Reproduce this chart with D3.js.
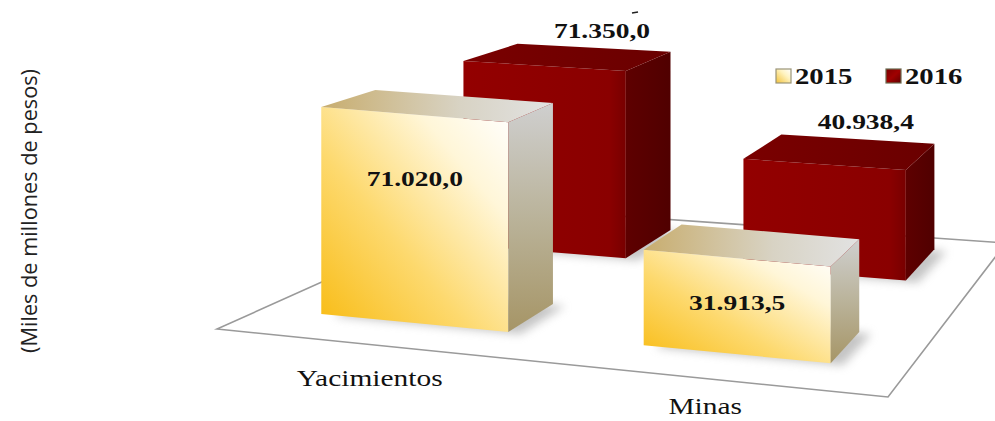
<!DOCTYPE html>
<html>
<head>
<meta charset="utf-8">
<script src="https://cdn.jsdelivr.net/npm/d3@7"></script>
<style>
  body { margin: 0; background: #fff; }
  svg { display: block; }
</style>
</head>
<body>
<svg id="chart" width="995" height="421"></svg>
<script>
const categories = ["Yacimientos", "Minas"];
const series = ["2015", "2016"];
const values2015 = [71020.0, 31913.5];
const values2016 = [71350.0, 40938.4];

const width = 995;
const height = 421;
const svg = d3.select("#chart");

// floor corners (front-left, front-right, back-left, back-right)
const FL = [217, 329], FR = [888, 397], BL = [489, 207], BR = [1006, 243];

const esLocale = d3.formatLocale({ decimal: ",", thousands: ".", grouping: [3], currency: ["$", ""] });
const fmt = esLocale.format(",.1f");

const uScale = d3.scaleBand().domain(categories).range([0.09, 0.88]).paddingInner(0.42);
const vScale = d3.scaleBand().domain(series).range([0.17, 0.93]).paddingInner(0.62);
const hScale = d3.scaleLinear().domain([0, 100000]).range([0, 300]);

function floorPt(u, v) {
  const fx = FL[0] + u * (FR[0] - FL[0]), fy = FL[1] + u * (FR[1] - FL[1]);
  const bx = BL[0] + u * (BR[0] - BL[0]), by = BL[1] + u * (BR[1] - BL[1]);
  return [fx + v * (bx - fx), fy + v * (by - fy)];
}
function proj(u, v, val) {
  const p = floorPt(u, v);
  const f = 1 + 0.05 * u - 0.2 * v;
  return [p[0], p[1] - hScale(val) * f];
}

const defs = svg.append("defs");
function grad(id, x1, y1, x2, y2, stops) {
  const g = defs.append("linearGradient").attr("id", id)
    .attr("x1", x1).attr("y1", y1).attr("x2", x2).attr("y2", y2);
  stops.forEach(s => g.append("stop").attr("offset", s[0]).attr("stop-color", s[1]));
}
grad("yFront", 0, 1, 1, 0, [[0, "#f8bb12"], [0.4, "#fdd96e"], [0.75, "#fff6d8"], [1, "#ffffff"]]);
grad("ySide", 0, 0, 0, 1, [[0, "#cfcfcf"], [0.5, "#bab39a"], [1, "#a69566"]]);
grad("yTop", 0, 0, 1, 0, [[0, "#c8ad6e"], [0.6, "#d8d3c4"], [1, "#e2e2e2"]]);
grad("rFront", 0, 0, 1, 0, [[0, "#930000"], [0.9, "#8a0000"], [1, "#780000"]]);
grad("rSide", 0, 0, 1, 0, [[0, "#5e0000"], [1, "#500000"]]);
grad("rTop", 0, 0, 1, 0, [[0, "#7a0000"], [1, "#6a0000"]]);
grad("yLeg", 0, 1, 1, 0, [[0, "#f3c23a"], [0.6, "#fff3c0"], [1, "#ffffff"]]);
grad("rLeg", 0, 0, 1, 1, [[0, "#7a0000"], [0.5, "#a00000"], [1, "#600000"]]);

defs.append("filter").attr("id", "blur").attr("x", "-30%").attr("y", "-30%")
  .attr("width", "160%").attr("height", "160%")
  .append("feGaussianBlur").attr("stdDeviation", 5);

const line = d3.line();

// floor
svg.append("path")
  .attr("d", line([FL, FR, BR, BL]) + "Z")
  .attr("fill", "#fff")
  .attr("stroke", "#9a9a9a")
  .attr("stroke-width", 1.6);

const bars = [];
series.forEach((s, si) => {
  const vals = si === 0 ? values2015 : values2016;
  categories.forEach((c, ci) => {
    bars.push({ cat: c, ser: s, si, value: vals[ci] });
  });
});
// back row first
bars.sort((a, b) => b.si - a.si);

const gBars = svg.append("g");

bars.forEach(d => {
  const u0 = uScale(d.cat), u1 = u0 + uScale.bandwidth();
  const v0 = vScale(d.ser), v1 = v0 + vScale.bandwidth();
  const fbl = proj(u0, v0, 0), fbr = proj(u1, v0, 0), bbr = proj(u1, v1, 0), bbl = proj(u0, v1, 0);
  const ftl = proj(u0, v0, d.value), ftr = proj(u1, v0, d.value);
  const btr = proj(u1, v1, d.value), btl = proj(u0, v1, d.value);
  const pre = d.si === 0 ? "y" : "r";

  // shadow on floor
  gBars.append("path")
    .attr("d", line([fbl, fbr, bbr, bbl].map(p => [p[0] + 12, p[1] + 2])) + "Z")
    .attr("fill", "#8a8a8a")
    .attr("opacity", 0.5)
    .attr("filter", "url(#blur)");

  gBars.append("path").attr("d", line([fbl, fbr, ftr, ftl]) + "Z")
    .attr("fill", `url(#${pre}Front)`);
  gBars.append("path").attr("d", line([fbr, bbr, btr, ftr]) + "Z")
    .attr("fill", `url(#${pre}Side)`);
  gBars.append("path").attr("d", line([ftl, ftr, btr, btl]) + "Z")
    .attr("fill", `url(#${pre}Top)`);

  d.ftl = ftl; d.ftr = ftr; d.fbl = fbl; d.fbr = fbr; d.btl = btl; d.btr = btr;
});

// value labels
const labelFont = "'Liberation Serif', 'Times New Roman', serif";
bars.forEach(d => {
  let x, y;
  if (d.si === 0) {
    const top = (d.ftl[1] + d.ftr[1]) / 2, bot = (d.fbl[1] + d.fbr[1]) / 2;
    const h = bot - top;
    x = (d.ftl[0] + d.ftr[0]) / 2;
    y = (top + bot) / 2 - 0.327 * h + 35;
  } else {
    x = (d.btl[0] + d.btr[0]) / 2 + 8;
    y = (d.btl[1] + d.btr[1]) / 2 - 10;
  }
  svg.append("text")
    .attr("transform", `translate(${x},${y}) scale(1.25,1)`)
    .attr("text-anchor", "middle")
    .attr("font-family", labelFont)
    .attr("font-weight", "bold")
    .attr("font-size", 22)
    .attr("fill", "#111")
    .text(fmt(d.value));
});

// small stray mark next to the top label
svg.append("line")
  .attr("x1", 632).attr("y1", 13).attr("x2", 638).attr("y2", 12)
  .attr("stroke", "#222").attr("stroke-width", 1.6);

// category labels
categories.forEach(c => {
  const p = floorPt(uScale(c) + uScale.bandwidth() / 2, 0);
  svg.append("text")
    .attr("transform", `translate(${p[0] - 5},${Math.min(p[1] + 41, height - 7)}) scale(1.28,1)`)
    .attr("text-anchor", "middle")
    .attr("font-family", labelFont)
    .attr("font-size", 23)
    .attr("fill", "#111")
    .text(c);
});

// axis title
svg.append("text")
  .attr("transform", "translate(37,211) rotate(-90)")
  .attr("text-anchor", "middle")
  .attr("font-family", "'Open Sans', 'DejaVu Sans', sans-serif")
  .attr("font-size", 21)
  .attr("textLength", 284)
  .attr("lengthAdjust", "spacingAndGlyphs")
  .attr("fill", "#222")
  .text("(Miles de millones de pesos)");

// legend
const legend = svg.append("g");
const legX = d3.scalePoint().domain(series).range([776, 886]);
series.forEach((s, i) => {
  const x = legX(s);
  legend.append("rect")
    .attr("x", x).attr("y", 69).attr("width", 15).attr("height", 14)
    .attr("fill", i === 0 ? "url(#yLeg)" : "url(#rLeg)")
    .attr("stroke", i === 0 ? "#9a9478" : "#6b6b50")
    .attr("stroke-width", 1.2);
  legend.append("text")
    .attr("transform", `translate(${x + 19},84) scale(1.25,1)`)
    .attr("font-family", labelFont)
    .attr("font-weight", "bold")
    .attr("font-size", 23)
    .attr("fill", "#111")
    .text(s);
});
</script>
</body>
</html>
